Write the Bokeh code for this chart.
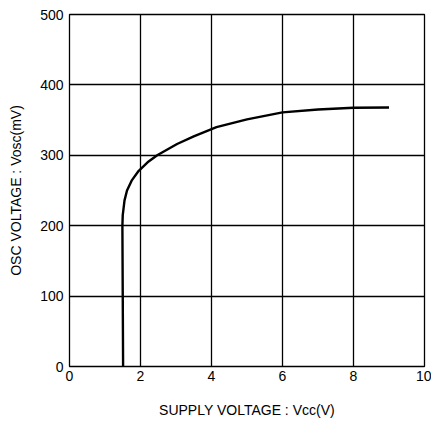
from bokeh.plotting import figure
from bokeh.models import Range1d, FixedTicker
from bokeh.embed import file_html
from bokeh.resources import INLINE

# Data
vcc = [1.51, 1.50, 1.49, 1.50, 1.55, 1.62, 1.75, 1.95, 2.2, 2.47, 3.03, 3.5, 4.14, 5.0, 6.0, 7.0, 8.0, 9.0]
vosc = [0, 100, 200, 215, 236, 250, 264, 278, 290, 300, 316, 327, 340, 351, 361, 365, 367.5, 368]

x_ticks = [0, 2, 4, 6, 8, 10]
y_ticks = [0, 100, 200, 300, 400, 500]

p = figure(width=431, height=421, output_backend="svg", toolbar_location=None,
           x_range=Range1d(0, 10), y_range=Range1d(0, 500),
           min_border_left=69, min_border_right=7, min_border_top=14, min_border_bottom=55)

p.line(vcc, vosc, line_color="black", line_width=2.4)

p.xaxis.ticker = FixedTicker(ticks=x_ticks)
p.yaxis.ticker = FixedTicker(ticks=y_ticks)
for ax in (p.xaxis, p.yaxis):
    ax.axis_line_color = None
    ax.major_tick_line_color = None
    ax.minor_tick_line_color = None
    ax.major_tick_out = 0
    ax.major_tick_in = 0
    ax.major_label_text_font = "Liberation Sans"
    ax.major_label_text_font_size = "14px"
    ax.major_label_text_color = "black"
    ax.axis_label_text_font = "Liberation Sans"
    ax.axis_label_text_font_size = "14px"
    ax.axis_label_text_font_style = "normal"
    ax.axis_label_text_color = "black"

p.xaxis.major_label_standoff = 4
p.yaxis.major_label_standoff = 6
p.xaxis.axis_label = "SUPPLY VOLTAGE : Vcc(V)"
p.yaxis.axis_label = "OSC VOLTAGE : Vosc(mV)"
p.xaxis.axis_label_standoff = 18
p.yaxis.axis_label_standoff = 13

p.xgrid.ticker = FixedTicker(ticks=x_ticks)
p.ygrid.ticker = FixedTicker(ticks=y_ticks)
p.grid.grid_line_color = "black"
p.grid.grid_line_width = 1.3
p.grid.grid_line_alpha = 1.0

p.outline_line_color = "black"
p.outline_line_width = 1.3
p.background_fill_color = "white"
p.border_fill_color = "white"

open("out.html", "w").write(file_html(p, INLINE))
